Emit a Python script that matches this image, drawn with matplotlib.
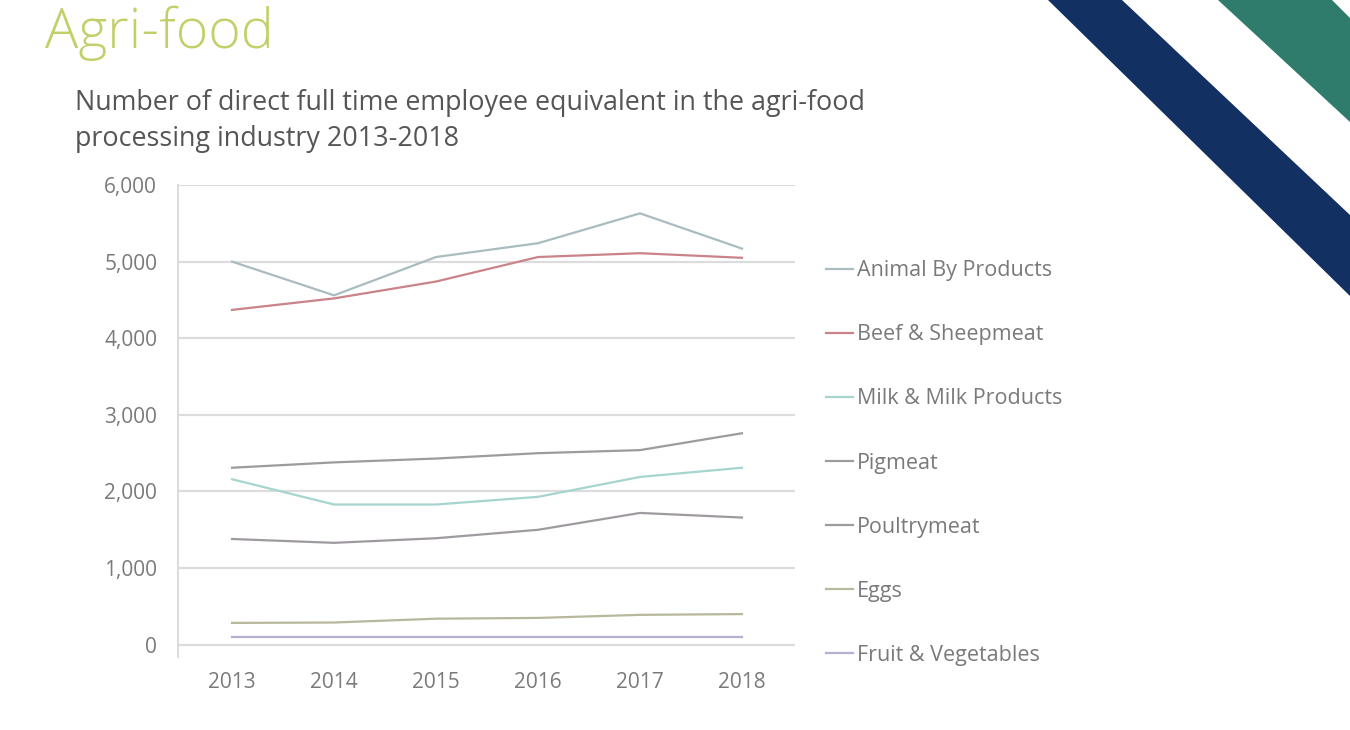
import matplotlib
matplotlib.use('Agg')
from matplotlib import pyplot as plt
from matplotlib.patches import Polygon

plt.rcParams['font.family'] = ['Open Sans', 'DejaVu Sans']

years = [2013, 2014, 2015, 2016, 2017, 2018]
year_labels = ['2013', '2014', '2015', '2016', '2017', '2018']

animal_by_products = [5000, 4560, 5060, 5240, 5630, 5170]
beef_sheepmeat = [4370, 4520, 4740, 5060, 5110, 5050]
milk_products = [2160, 1830, 1830, 1930, 2190, 2310]
pigmeat = [2310, 2380, 2430, 2500, 2540, 2760]
poultrymeat = [1380, 1330, 1390, 1500, 1720, 1660]
eggs = [285, 290, 340, 350, 390, 400]
fruit_veg = [100, 100, 100, 100, 100, 100]

names = ['Animal By Products', 'Beef & Sheepmeat', 'Milk & Milk Products',
         'Pigmeat', 'Poultrymeat', 'Eggs', 'Fruit & Vegetables']
series = [animal_by_products, beef_sheepmeat, milk_products, pigmeat,
          poultrymeat, eggs, fruit_veg]
colors = ['#a9bcc0', '#c98389', '#a6d4cf', '#9c9c9c', '#9f9aa0',
          '#b7b89c', '#b4b0d4']

y_ticks = [0, 1000, 2000, 3000, 4000, 5000, 6000]

fig = plt.figure(figsize=(13.5, 7.3), dpi=100)
ax = fig.add_axes([178 / 1350, 1 - 657 / 730, (795 - 178) / 1350, (657 - 185) / 730])

for vals, name, c in zip(series, names, colors):
    ax.plot(years, vals, color=c, lw=1.6, label=name)

ax.set_xlim(2012.47, 2018.52)
ax.set_ylim(-160, 6000)
ax.set_yticks(y_ticks)
ax.set_yticklabels([f'{v:,}' for v in y_ticks])
ax.set_xticks(years)
ax.set_xticklabels(year_labels)
ax.tick_params(length=0, labelsize=15, colors='#7a7a7a')
ax.tick_params(axis='y', pad=15)
ax.tick_params(axis='x', pad=11)
ax.grid(axis='y', color='#dcdcdc', lw=1.6)
ax.set_axisbelow(True)
for s in ['top', 'right', 'bottom']:
    ax.spines[s].set_visible(False)
ax.spines['left'].set_color('#dcdcdc')
ax.spines['left'].set_linewidth(1.4)

leg = fig.legend(loc='upper left', bbox_to_anchor=(807 / 1350, 1 - 241 / 730),
                 frameon=False, fontsize=15.5, labelcolor='#7a7a7a',
                 handlelength=1.25, handletextpad=0.15, labelspacing=2.0)

fig.text(45 / 1350, 1 - 33 / 730, 'Agri-food', fontsize=40, color='#c3d06a',
         va='center', ha='left', fontweight='light')
fig.text(75 / 1350, 1 - 121 / 730,
         'Number of direct full time employee equivalent in the agri-food\n'
         'processing industry 2013-2018',
         fontsize=19.4, color='#555555', va='center', ha='left', linespacing=1.38)

def px(pts):
    return [(x / 1350, 1 - y / 730) for x, y in pts]

fig.patches.append(Polygon(px([(1048, 0), (1122, 0), (1350, 215), (1350, 296)]),
                           closed=True, transform=fig.transFigure,
                           facecolor='#123061', edgecolor='none'))
fig.patches.append(Polygon(px([(1218, 0), (1332, 0), (1350, 18), (1350, 122)]),
                           closed=True, transform=fig.transFigure,
                           facecolor='#2f7c6d', edgecolor='none'))

fig.savefig('out.png', dpi=100, facecolor='white')
